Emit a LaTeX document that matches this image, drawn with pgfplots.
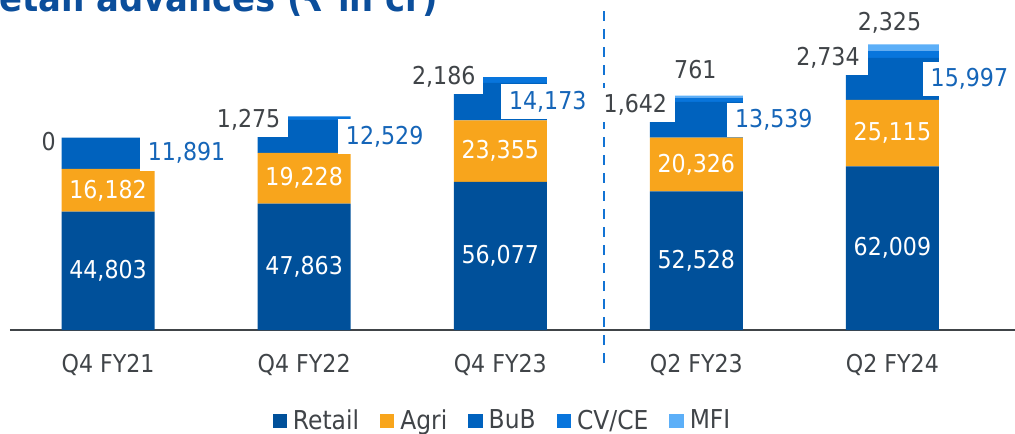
\documentclass[border=0pt]{standalone}
\usepackage{fontspec}
\setmainfont{DejaVu Sans Condensed}
\usepackage{pgfplots}
\pgfplotsset{compat=1.18}

\definecolor{retail}{HTML}{00509A}
\definecolor{agri}{HTML}{F8A51C}
\definecolor{bub}{HTML}{0062BE}
\definecolor{cvce}{HTML}{0875DC}
\definecolor{mfi}{HTML}{5CAFF8}
\definecolor{titleblue}{HTML}{0B4E9B}
\definecolor{graytxt}{HTML}{404448}
\definecolor{bubtxt}{HTML}{1565B8}
\definecolor{sepblue}{HTML}{1273D4}

\newcommand\lbl{\fontsize{12.3}{14}\selectfont}
\tikzset{
  inl/.style={text=white, font=\lbl},
  bubl/.style={fill=white, text=bubtxt, font=\lbl, inner xsep=4pt, minimum height=17pt},
  cvl/.style={fill=white, text=graytxt, font=\lbl, inner xsep=4pt, minimum height=16pt},
  mfil/.style={text=graytxt, font=\lbl},
}

\begin{document}
\begin{tikzpicture}
\useasboundingbox (0,0) rectangle (507.5pt,216.5pt);
\node[anchor=base east, text=titleblue, font=\fontsize{18.8}{21}\selectfont\bfseries]
  at (222.5pt,210.5pt) {Retail advances (₹ in cr)};
\begin{axis}[
  at={(5pt,51.5pt)}, anchor=south west,
  scale only axis,
  width=502.5pt, height=165pt,
  xmin=-0.5, xmax=4.625,
  ymin=0, ymax=125000,
  ybar stacked,
  bar width=46.5pt,
  axis y line=none,
  axis x line*=bottom,
  x axis line style={draw=graytxt, line width=0.8pt},
  xtick={0,1,2,3,4},
  xticklabels={Q4 FY21,Q4 FY22,Q4 FY23,Q2 FY23,Q2 FY24},
  major tick length=0pt,
  xticklabel style={font=\lbl, text=graytxt, yshift=-8.5pt},
  clip=false,
  legend columns=5,
  legend image code/.code={\draw[#1,draw=none] (0pt,-3.6pt) rectangle (7.2pt,3.6pt);},
  legend style={draw=none, fill=none, font=\fontsize{13}{15}\selectfont, text=graytxt,
    inner sep=0pt, nodes={inner ysep=1pt},
    at={(0.491,0)}, anchor=center, yshift=-45.5pt,
    /tikz/every odd column/.append style={column sep=1pt},
    /tikz/every even column/.append style={column sep=8.5pt}},
]
\addplot[fill=retail, draw=none] coordinates {(0,44803) (1,47863) (2,56077) (3,52528) (4,62009)};
\addplot[fill=agri, draw=none] coordinates {(0,16182) (1,19228) (2,23355) (3,20326) (4,25115)};
\addplot[fill=bub, draw=none] coordinates {(0,11891) (1,12529) (2,14173) (3,13539) (4,15997)};
\addplot[fill=cvce, draw=none] coordinates {(0,0) (1,1275) (2,2186) (3,1642) (4,2734)};
\addplot[fill=mfi, draw=none] coordinates {(0,0) (1,0) (2,0) (3,761) (4,2325)};
\legend{Retail,Agri,BuB,CV/CE,MFI}

% separator between annual and half-year periods
\draw[sepblue, line width=1pt, dash pattern=on 5pt off 4pt]
  (axis cs:2.528,-12500) -- (axis cs:2.528,121970);

% anchor points for the value labels (drawn after the bars)
\coordinate (r0) at (axis cs:0,22401);
\coordinate (r1) at (axis cs:1,23931);
\coordinate (r2) at (axis cs:2,28038);
\coordinate (r3) at (axis cs:3,26264);
\coordinate (r4) at (axis cs:4,31004);
\coordinate (a0) at (axis cs:0,52894);
\coordinate (a1) at (axis cs:1,57477);
\coordinate (a2) at (axis cs:2,67754);
\coordinate (a3) at (axis cs:3,62691);
\coordinate (a4) at (axis cs:4,74566);
\coordinate (b0) at (axis cs:0,66930);
\coordinate (b1) at (axis cs:1,73355);
\coordinate (b2) at (axis cs:2,86518);
\coordinate (b3) at (axis cs:3,79623);
\coordinate (b4) at (axis cs:4,95122);
\coordinate (c0) at (axis cs:0,71212);
\coordinate (c1) at (axis cs:1,79545);
\coordinate (c2) at (axis cs:2,95833);
\coordinate (c3) at (axis cs:3,85227);
\coordinate (c4) at (axis cs:4,103030);
\coordinate (m3) at (axis cs:3,98485);
\coordinate (m4) at (axis cs:4,116288);
\end{axis}

% Retail
\node[inl] at (r0) {44,803};
\node[inl] at (r1) {47,863};
\node[inl] at (r2) {56,077};
\node[inl] at (r3) {52,528};
\node[inl] at (r4) {62,009};
% Agri
\node[inl] at (a0) {16,182};
\node[inl] at (a1) {19,228};
\node[inl] at (a2) {23,355};
\node[inl] at (a3) {20,326};
\node[inl] at (a4) {25,115};
% BuB
\node[bubl, xshift=39.25pt] at (b0) {11,891};
\node[bubl, xshift=40.25pt] at (b1) {12,529};
\node[bubl, xshift=23.75pt] at (b2) {14,173};
\node[bubl, xshift=38.75pt] at (b3) {13,539};
\node[bubl, xshift=38.5pt] at (b4) {15,997};
% CV/CE
\node[cvl, inner xsep=2pt, xshift=-29.75pt] at (c0) {0};
\node[cvl, xshift=-27.75pt] at (c1) {1,275};
\node[cvl, xshift=-28.25pt] at (c2) {2,186};
\node[cvl, xshift=-30.5pt] at (c3) {1,642};
\node[cvl, xshift=-32.25pt] at (c4) {2,734};
% MFI
\node[mfil, xshift=-0.5pt] at (m3) {761};
\node[mfil, xshift=-1.5pt] at (m4) {2,325};
\end{tikzpicture}
\end{document}
